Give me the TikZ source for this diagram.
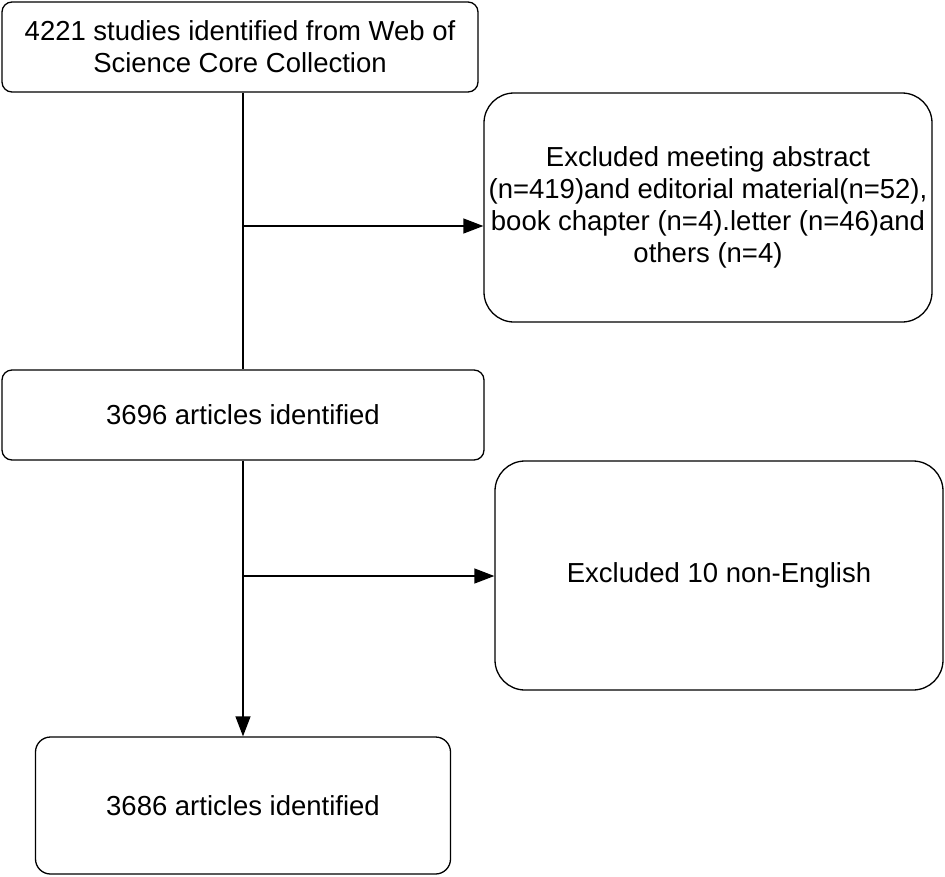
\documentclass[tikz,border=0pt]{standalone}
\usepackage{fontspec}
\setmainfont{Liberation Sans}
\usetikzlibrary{arrows.meta, positioning}
\tikzstyle{stage}=[draw,line width=1.3pt,rounded corners=10pt,align=center,inner sep=0pt,font=\fontsize{27.5}{32}\selectfont]
\tikzstyle{excl}=[stage,rounded corners=30pt,minimum width=448pt,minimum height=229pt]
\tikzstyle{flow}=[line width=1.3pt,-{Triangle[length=20pt,width=15pt]}]

\begin{document}
\begin{tikzpicture}[x=1pt,y=-1pt]
    \useasboundingbox[fill=white] (0,0) rectangle (945,876);
    \node[stage,minimum width=476pt,minimum height=90pt] (found) at (240,47)
        {4221 studies identified from Web of\\Science Core Collection};
    \node[excl] (type) at (708,207.5)
        {Excluded meeting abstract\\(n=419)and editorial material(n=52),\\book chapter (n=4).letter (n=46)and\\others (n=4)};
    \node[stage,minimum width=482pt,minimum height=90pt] (art1) at (243,415) {3696 articles identified};
    \node[excl] (lang) at (719,575.5) {Excluded 10 non-English};
    \node[stage,rounded corners=15pt,minimum width=415pt,minimum height=137pt] (art2) at (243,805.5) {3686 articles identified};
    \coordinate (j1) at (243,226);
    \coordinate (j2) at (243,576);
    \draw[line width=1.3pt] (found.south -| art1.north) -- (art1.north);
    \draw[flow] (j1) -- (j1 -| type.west);
    \draw[flow] (art1.south) -- (art2.north);
    \draw[flow] (j2) -- (j2 -| lang.west);
\end{tikzpicture}
\end{document}
